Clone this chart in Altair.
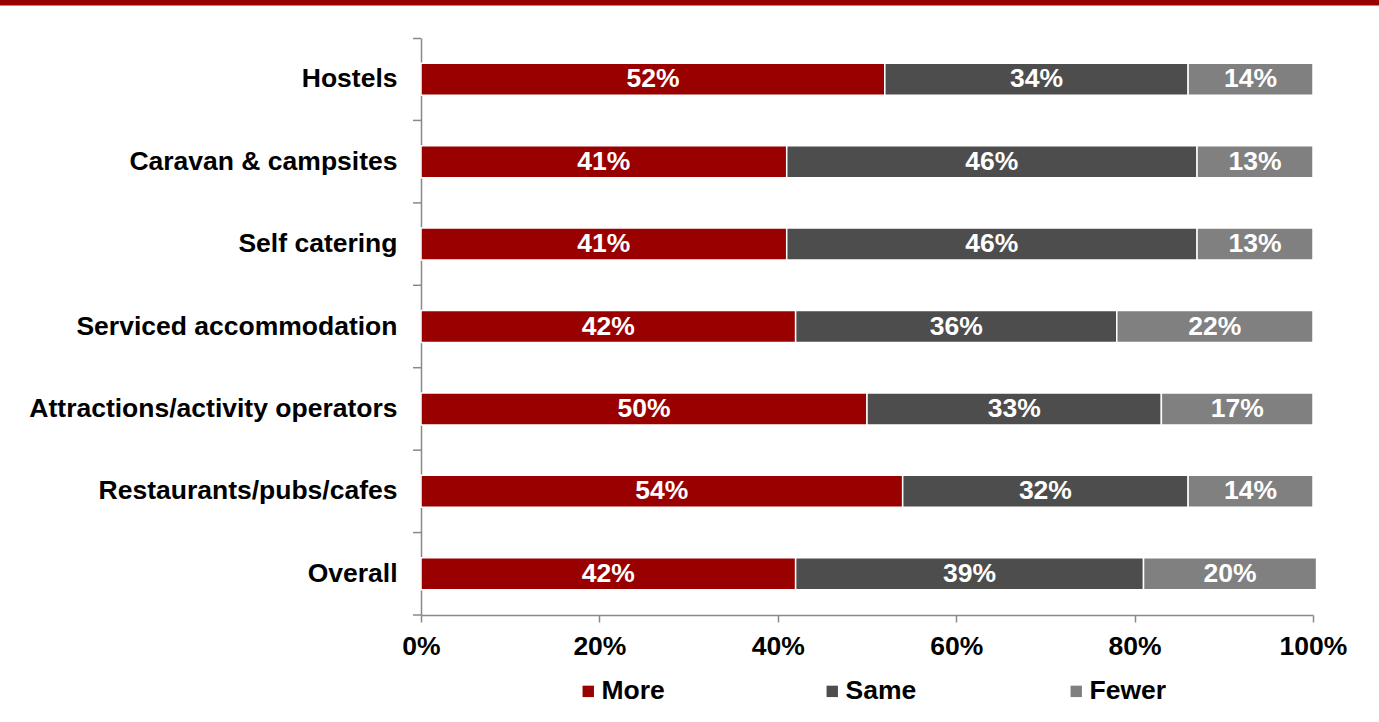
import altair as alt
import pandas as pd

categories = ["Hostels", "Caravan & campsites", "Self catering", "Serviced accommodation",
              "Attractions/activity operators", "Restaurants/pubs/cafes", "Overall"]
series = ["More", "Same", "Fewer"]
more = [52, 41, 41, 42, 50, 54, 42]
same = [34, 46, 46, 36, 33, 32, 39]
fewer = [14, 13, 13, 22, 17, 14, 19.4]
more_lbl = ["52%", "41%", "41%", "42%", "50%", "54%", "42%"]
same_lbl = ["34%", "46%", "46%", "36%", "33%", "32%", "39%"]
fewer_lbl = ["14%", "13%", "13%", "22%", "17%", "14%", "20%"]
colors = ["#990000", "#4d4d4d", "#808080"]
x_ticks = [0, 20, 40, 60, 80, 100]

rows = []
for i, c in enumerate(categories):
    start = 0.0
    for s, vals, lbls in zip(series, [more, same, fewer], [more_lbl, same_lbl, fewer_lbl]):
        v = vals[i]
        rows.append({"cat": c, "series": s, "order": series.index(s), "start": start,
                     "end": start + v, "mid": start + v / 2, "label": lbls[i]})
        start += v
df = pd.DataFrame(rows)
cat_df = pd.DataFrame({"cat": categories})

FONT = "Liberation Sans"
FS = 26.5
AX = "#898989"
STEP = 577 / 7

y_scale = alt.Scale(paddingInner=0.612, paddingOuter=0.306)

y_enc = alt.Y("cat:N", sort=categories, title=None, scale=y_scale,
              axis=alt.Axis(ticks=False, labelPadding=24,
                            labelFontSize=FS, labelFont=FONT, labelFontWeight="bold",
                            labelColor="black", domainColor=AX,
                            domainWidth=1.5, labelLimit=500))

bars = alt.Chart(df).mark_bar(stroke="white", strokeWidth=1.5).encode(
    x=alt.X("start:Q", title=None,
            scale=alt.Scale(domain=[0, 100], nice=False, clamp=False),
            axis=alt.Axis(values=x_ticks, labelExpr="datum.value + '%'", tickSize=7,
                          labelPadding=11, labelFontSize=FS, labelFont=FONT,
                          labelFontWeight="bold", labelColor="black", grid=False,
                          labelFlush=False, labelOverlap=False,
                          domainColor=AX, tickColor=AX, domainWidth=1.5,
                          tickWidth=1.5)),
    x2="end:Q",
    y=y_enc,
    color=alt.Color("series:N", sort=series,
                    scale=alt.Scale(domain=series, range=colors),
                    legend=alt.Legend(title=None, orient="none", legendX=154, legendY=640,
                                      direction="horizontal", columns=3, gridAlign="all",
                                      columnPadding=140, symbolType="square",
                                      symbolSize=130, symbolStrokeWidth=0, labelOffset=0,
                                      labelFontSize=FS, labelFont=FONT,
                                      labelFontWeight="bold", labelColor="black",
                                      padding=0)),
    order=alt.Order("order:Q"),
)

texts = alt.Chart(df).mark_text(color="white", font=FONT, fontSize=FS, fontWeight="bold",
                                baseline="middle", align="center").encode(
    x=alt.X("mid:Q"),
    y=alt.Y("cat:N", sort=categories),
    text="label:N",
)

ticks = alt.Chart(cat_df).mark_rule(color=AX, strokeWidth=1.5, yOffset=STEP / 2).encode(
    y=alt.Y("cat:N", sort=categories),
    x=alt.value(-8), x2=alt.value(0))

deco = pd.DataFrame({"k": [0]})
band = alt.Chart(deco).mark_rule(color="#990000", strokeWidth=5.5).encode(
    x=alt.value(-421), x2=alt.value(958), y=alt.value(-35.25))
top_tick = alt.Chart(deco).mark_rule(color=AX, strokeWidth=1.5).encode(
    x=alt.value(-8), x2=alt.value(0), y=alt.value(0.5))

chart = alt.layer(band, top_tick, bars, texts, ticks).properties(
    width=892, height=577,
    autosize=alt.AutoSizeParams(type="none"),
    padding={"left": 421, "top": 38, "right": 66, "bottom": 107},
    background="white",
).configure_view(stroke=None)

chart.save("out.html", embed_options={"renderer": "svg", "actions": False})
